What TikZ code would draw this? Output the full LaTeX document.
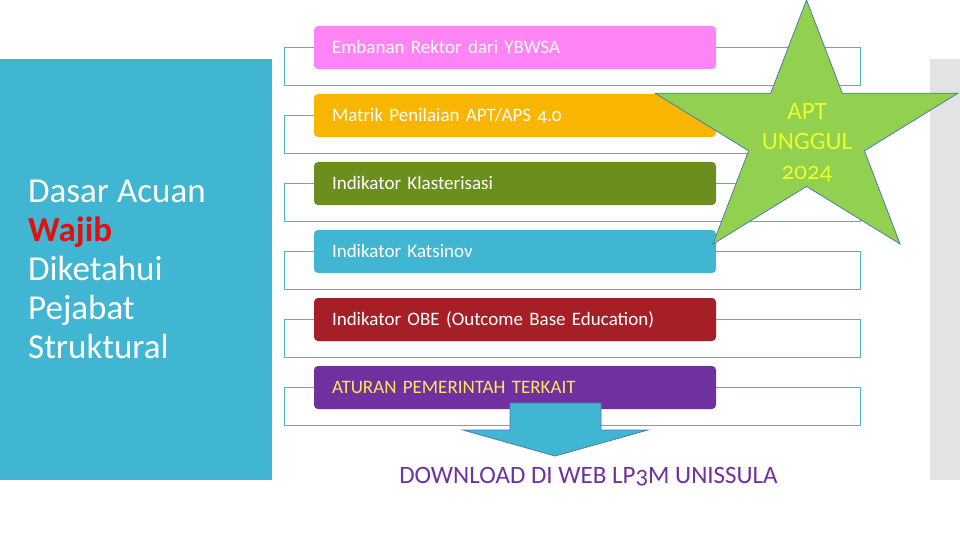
\documentclass[tikz,border=0pt]{standalone}
\usepackage{fontspec}
\setmainfont{Carlito}[Numbers=OldStyle]
\definecolor{panel}{HTML}{41B6D2}
\definecolor{strip}{HTML}{E3E3E3}
\definecolor{rowline}{HTML}{52B2C4}
\definecolor{cpink}{HTML}{FF85F6}
\definecolor{corange}{HTML}{F8B600}
\definecolor{colive}{HTML}{6B8E1E}
\definecolor{ccyan}{HTML}{40B6D2}
\definecolor{cred}{HTML}{A61F26}
\definecolor{cpurple}{HTML}{7030A0}
\definecolor{ayellow}{HTML}{FFE65C}
\definecolor{staryellow}{HTML}{EBFF28}
\definecolor{starfill}{HTML}{92D050}
\definecolor{starline}{HTML}{4A7FA8}
\definecolor{wajibred}{HTML}{E01010}
\tikzset{
  rowbox/.style={draw=rowline, line width=0.9pt, fill=white, minimum width=576pt, minimum height=38pt, inner sep=0pt},
  barbox/.style={rounded corners=4pt, minimum height=43pt, text width=366pt, inner xsep=18pt, inner ysep=0pt,
     align=left, text height=12pt, text depth=0pt, text=white, font=\fontsize{19}{22}\selectfont},
}
\begin{document}
\begin{tikzpicture}[x=1pt,y=-1pt]
\useasboundingbox (0,0) rectangle (960,540);
\fill[white] (0,0) rectangle (960,540);
% left panel and right strip
\fill[panel] (0,59) rectangle (272,480);
\fill[strip] (930,59) rectangle (960,480);
\node[anchor=west, align=left, inner sep=0pt, text=white, font=\fontsize{35}{39}\selectfont] (lefttext) at (28,269)
  {Dasar Acuan\\ \textcolor{wajibred}{\textbf{Wajib}}\\ Diketahui\\ Pejabat\\ Struktural};
% row outline boxes
\node[rowbox] (r1) at (572,66) {};
\node[rowbox] (r2) at (572,134) {};
\node[rowbox] (r3) at (572,202) {};
\node[rowbox] (r4) at (572,270.5) {};
\node[rowbox] (r5) at (572,338) {};
\node[rowbox] (r6) at (572,406) {};
% coloured bars
\node[barbox, fill=cpink] (b1) at (515,47.5) {Embanan Rektor dari YBWSA};
\node[barbox, fill=corange] (b2) at (515,115.5) {Matrik Penilaian APT/APS 4.0};
\node[barbox, fill=colive] (b3) at (515,183.5) {Indikator Klasterisasi};
\node[barbox, fill=ccyan] (b4) at (515,251.5) {Indikator Katsinov};
\node[barbox, fill=cred] (b5) at (515,319.5) {Indikator OBE (Outcome Base Education)};
\node[barbox, fill=cpurple, text=ayellow] (b6) at (515,387.5) {ATURAN PEMERINTAH TERKAIT};
% star
\draw[fill=starfill, draw=starline, line width=0.8pt, line join=miter]
  (806.5,0) -- (842.3,93.2) -- (958,93.2) -- (864.4,150.8) -- (900.1,244)
  -- (806.5,186.4) -- (712.9,244) -- (748.6,150.8) -- (655,93.2) -- (770.7,93.2) -- cycle;
\node[align=center, inner sep=0pt, text=staryellow, font=\fontsize{25}{30}\selectfont] (startext) at (807,142.5)
  {APT\\UNGGUL\\2024};
% arrow
\draw[fill=ccyan, draw=starline, line width=0.8pt, line join=miter]
  (510,403) -- (601,403) -- (601,430) -- (648,430) -- (555,456) -- (463,430) -- (510,430) -- cycle;
\node[anchor=base, inner sep=0pt, text=cpurple, font=\fontsize{25}{30}\selectfont] (download) at (588.5,483)
  {DOWNLOAD DI WEB LP3M UNISSULA};
\end{tikzpicture}
\end{document}
